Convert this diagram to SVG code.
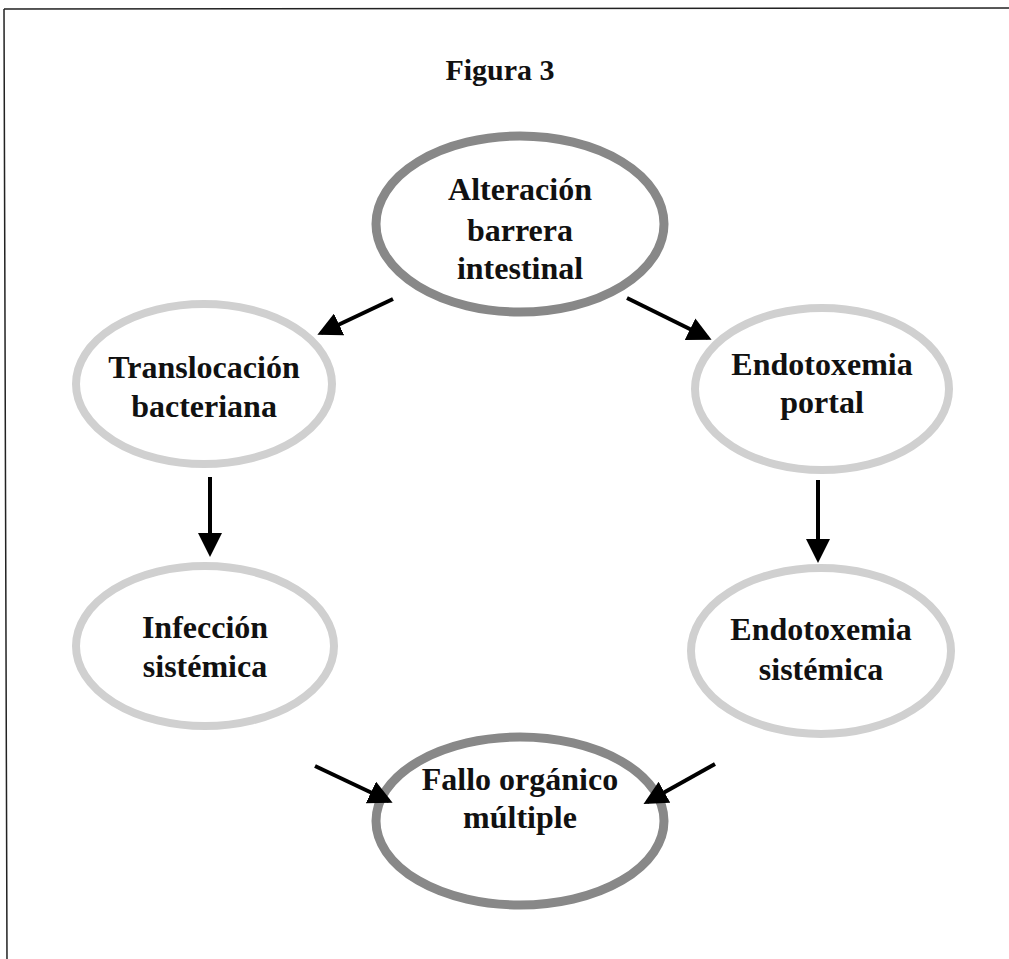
<svg xmlns="http://www.w3.org/2000/svg" width="1009" height="959" viewBox="0 0 1009 959">
<defs>
<marker id="ah" markerWidth="6" markerHeight="6" refX="5" refY="3" orient="auto" markerUnits="strokeWidth">
<path d="M0,0 L6,3 L0,6 Z" fill="#000"/>
</marker>
</defs>
<style>
.frame{stroke:#222;stroke-width:1.5;fill:none}
.main{fill:#fff;stroke:#888;stroke-width:9}
.sec{fill:#fff;stroke:#d0d0d0;stroke-width:8}
.lbl{font-family:"Liberation Serif",serif;font-weight:bold;font-size:32px;fill:#111;text-anchor:middle}
.title{font-family:"Liberation Serif",serif;font-weight:bold;font-size:30px;fill:#111;text-anchor:middle}
.conn{stroke:#000;stroke-width:4;fill:none;marker-end:url(#ah)}
</style>
<rect width="1009" height="959" fill="#fff"/>
<path class="frame" d="M4,9 L1009,8 M4,9 L7,959"/>
<text class="title" x="500" y="80">Figura 3</text>
<g id="n1"><ellipse class="main" cx="520" cy="224" rx="144" ry="88"/>
<text class="lbl" x="520" y="200">Alteración</text><text class="lbl" x="520" y="241">barrera</text><text class="lbl" x="520" y="279">intestinal</text></g>
<g id="n2"><ellipse class="sec" cx="204" cy="384" rx="128" ry="80"/>
<text class="lbl" x="204" y="378">Translocación</text><text class="lbl" x="204" y="417">bacteriana</text></g>
<g id="n3"><ellipse class="sec" cx="822" cy="389" rx="127" ry="81"/>
<text class="lbl" x="822" y="375">Endotoxemia</text><text class="lbl" x="822" y="413">portal</text></g>
<g id="n4"><ellipse class="sec" cx="205" cy="646" rx="129" ry="80"/>
<text class="lbl" x="205" y="638">Infección</text><text class="lbl" x="205" y="677">sistémica</text></g>
<g id="n5"><ellipse class="sec" cx="821" cy="651" rx="130" ry="83"/>
<text class="lbl" x="821" y="640">Endotoxemia</text><text class="lbl" x="821" y="680">sistémica</text></g>
<g id="n6"><ellipse class="main" cx="520" cy="821" rx="144" ry="84"/>
<text class="lbl" x="520" y="790">Fallo orgánico</text><text class="lbl" x="520" y="828">múltiple</text></g>
<g id="connectors">
<line class="conn" x1="393" y1="299" x2="321" y2="333"/>
<line class="conn" x1="627" y1="298" x2="708" y2="338"/>
<line class="conn" x1="210" y1="477" x2="210" y2="553"/>
<line class="conn" x1="818" y1="480" x2="818" y2="559"/>
<line class="conn" x1="315" y1="766" x2="389" y2="801"/>
<line class="conn" x1="715" y1="764" x2="647" y2="802"/>
</g>
</svg>
